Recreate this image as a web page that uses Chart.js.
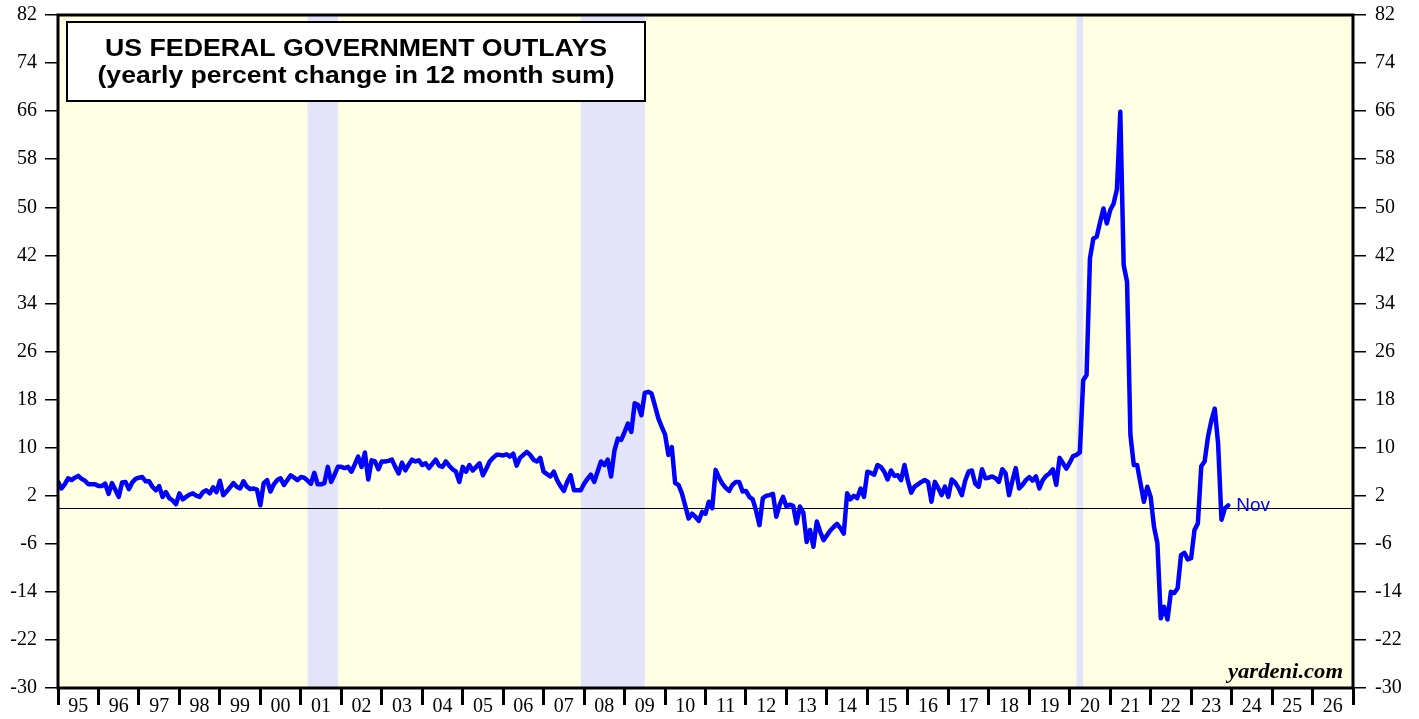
<!DOCTYPE html>
<html>
<head>
<meta charset="utf-8">
<style>
  html, body { margin: 0; padding: 0; background: #ffffff; }
  #wrap { width: 1419px; height: 719px; position: relative; }
  canvas { display: block; }
</style>
<script src="https://cdn.jsdelivr.net/npm/chart.js@4.4.0/dist/chart.umd.min.js"></script>
</head>
<body>
<div id="wrap"><canvas id="c" width="1419" height="719"></canvas></div>
<script>
// ---------------- DATA ----------------
const titleLine1 = 'US FEDERAL GOVERNMENT OUTLAYS';
const titleLine2 = '(yearly percent change in 12 month sum)';
const sourceText = 'yardeni.com';
const lastLabel = 'Nov';

// first observation: Dec 1994, monthly through Nov 2023
const startYear = 1994;
const startMonth = 12;

const outlaysYoY = [
  4.3,
  // 1995
  3.2, 3.9, 4.9, 4.6, 5.0, 5.3, 4.8, 4.5, 3.9, 3.9, 3.9, 3.6,
  // 1996
  3.6, 4.0, 2.3, 4.1, 3.0, 1.8, 4.2, 4.3, 3.1, 4.2, 4.8, 5.0,
  // 1997
  5.1, 4.4, 4.4, 3.5, 2.9, 3.6, 1.8, 2.6, 1.6, 1.2, 0.6, 2.4,
  // 1998
  1.4, 1.8, 2.2, 2.4, 2.0, 1.8, 2.6, 2.9, 2.4, 3.4, 2.6, 4.5,
  // 1999
  2.1, 2.7, 3.4, 4.1, 3.5, 3.2, 4.4, 3.5, 3.1, 3.2, 3.0, 0.4,
  // 2000
  4.1, 4.6, 2.7, 3.9, 4.6, 4.9, 3.8, 4.6, 5.4, 5.0, 4.6, 5.1,
  // 2001
  5.0, 4.5, 4.0, 5.8, 3.9, 3.9, 4.1, 6.8, 4.3, 5.5, 6.8, 6.8,
  // 2002
  6.6, 6.8, 6.0, 7.2, 8.5, 6.8, 9.2, 4.7, 7.9, 7.7, 6.4, 7.7,
  // 2003
  7.7, 7.8, 8.0, 6.8, 5.7, 7.5, 6.2, 7.2, 8.0, 7.7, 7.9, 7.1,
  // 2004
  7.4, 6.6, 7.3, 8.0, 7.0, 6.8, 7.7, 7.0, 6.4, 6.0, 4.3, 6.8,
  // 2005
  6.0, 7.1, 6.2, 6.8, 7.4, 5.4, 6.5, 7.7, 8.3, 8.8, 8.8, 8.7,
  // 2006
  8.9, 8.5, 9.0, 7.0, 8.3, 8.8, 9.3, 8.8, 8.0, 7.7, 8.3, 6.0,
  // 2007
  5.6, 5.2, 6.0, 4.6, 3.6, 2.8, 4.3, 5.4, 2.9, 2.9, 2.9, 4.0,
  // 2008
  4.8, 5.5, 4.3, 6.0, 7.7, 7.1, 8.0, 5.2, 9.5, 11.5, 11.3, 12.6,
  // 2009
  14.0, 12.6, 17.4, 17.1, 15.4, 19.1, 19.3, 19.0, 17.0, 14.9, 13.5, 12.2,
  // 2010
  8.8, 10.1, 4.1, 3.8, 2.4, 0.3, -1.8, -1.0, -1.5, -2.2, -0.7, -1.0,
  // 2011
  1.0, -0.1, 6.3, 5.0, 4.0, 3.3, 2.8, 3.8, 4.3, 4.3, 2.7, 2.8,
  // 2012
  1.8, 1.4, -0.5, -2.9, 1.6, 2.0, 2.1, 2.3, -1.5, 0.5, 1.8, 0.2,
  // 2013
  0.5, 0.3, -2.6, 0.2, -0.8, -5.7, -3.7, -6.5, -2.3, -4.0, -5.4, -4.6,
  // 2014
  -3.8, -3.2, -2.7, -3.4, -4.3, 2.4, 1.4, 2.0, 1.6, 3.2, 1.8, 6.0,
  // 2015
  5.8, 5.5, 7.1, 6.8, 6.0, 4.7, 6.2, 5.3, 5.4, 4.6, 7.1, 4.5,
  // 2016
  2.5, 3.5, 3.9, 4.3, 4.6, 4.3, 1.0, 4.3, 3.3, 2.1, 3.5, 1.8,
  // 2017
  4.7, 4.2, 3.3, 2.1, 4.5, 6.0, 6.2, 4.0, 3.5, 6.4, 4.9, 5.0,
  // 2018
  5.2, 4.9, 4.3, 6.4, 5.7, 2.1, 4.5, 6.6, 3.2, 3.8, 4.6, 5.1,
  // 2019
  4.5, 5.2, 3.2, 4.6, 5.3, 5.7, 6.4, 3.8, 8.3, 7.4, 6.5, 7.5,
  // 2020
  8.6, 8.8, 9.2, 21.2, 22.1, 41.5, 44.8, 45.1, 47.5, 49.8, 47.3, 49.5,
  // 2021
  50.6, 53.0, 65.9, 40.4, 37.6, 12.1, 7.1, 7.1, 4.0, 1.0, 3.5, 1.8,
  // 2022
  -3.2, -5.9, -18.4, -16.5, -18.6, -14.0, -14.2, -13.4, -7.9, -7.5, -8.6, -8.4,
  // 2023
  -3.7, -2.6, 6.9, 7.7, 11.8, 14.5, 16.5, 10.7, -2.0, -0.1, 0.4
];

const yearLabels = ['95','96','97','98','99','00','01','02','03','04','05','06','07','08','09',
  '10','11','12','13','14','15','16','17','18','19','20','21','22','23','24','25','26'];
const xFirstYear = 1995;
const xLastYear = 2027;

const yMin = -30;
const yMax = 82;
const yStep = 8;

// recessions (decimal years)
const recessionStarts = [2001.167, 2007.917, 2020.167];
const recessionEnds   = [2001.917, 2009.5,   2020.333];

// ---------------- BUILD ----------------
const points = outlaysYoY.map((v, i) => ({ x: startYear + (startMonth + i) / 12, y: v }));

const COL_BG = '#FFFFE3';
const COL_REC = '#E3E3FA';
const COL_LINE = '#0000FF';

const decorPlugin = {
  id: 'decor',
  beforeDraw(chart) {
    const { ctx, chartArea: a, scales } = chart;
    ctx.save();
    ctx.fillStyle = '#ffffff';
    ctx.fillRect(0, 0, chart.width, chart.height);
    ctx.fillStyle = COL_BG;
    ctx.fillRect(a.left, a.top, a.right - a.left, a.bottom - a.top);
    ctx.fillStyle = COL_REC;
    for (let i = 0; i < recessionStarts.length; i++) {
      const x0 = scales.x.getPixelForValue(recessionStarts[i]);
      const x1 = scales.x.getPixelForValue(recessionEnds[i]);
      ctx.fillRect(x0, a.top, x1 - x0, a.bottom - a.top);
    }
    const y0 = Math.round(scales.y.getPixelForValue(0)) + 0.5;
    ctx.strokeStyle = '#000';
    ctx.lineWidth = 1;
    ctx.beginPath();
    ctx.moveTo(a.left, y0);
    ctx.lineTo(a.right, y0);
    ctx.stroke();
    ctx.restore();
  },
  afterDraw(chart) {
    const { ctx, chartArea: a, scales } = chart;
    ctx.save();
    // frame
    ctx.strokeStyle = '#000';
    ctx.lineWidth = 3;
    ctx.strokeRect(a.left, a.top, a.right - a.left, a.bottom - a.top);

    // title box
    ctx.fillStyle = '#ffffff';
    ctx.fillRect(67, 22, 578, 79);
    ctx.lineWidth = 2;
    ctx.strokeRect(67, 22, 578, 79);

    const stretch = (text, cx, baseline, targetW, font, color, align) => {
      ctx.font = font;
      const w = ctx.measureText(text).width;
      const sx = targetW / w;
      ctx.save();
      ctx.fillStyle = color;
      ctx.textBaseline = 'alphabetic';
      ctx.textAlign = align;
      ctx.translate(cx, baseline);
      ctx.scale(sx, 1);
      ctx.fillText(text, 0, 0);
      ctx.restore();
    };
    stretch(titleLine1, 356, 56, 502, 'bold 23px "Liberation Sans", Arial, sans-serif', '#000', 'center');
    stretch(titleLine2, 356, 83, 517, 'bold 23px "Liberation Sans", Arial, sans-serif', '#000', 'center');

    // source
    stretch(sourceText, 1343, 678, 115, 'italic bold 21px "Liberation Serif", "Times New Roman", serif', '#000', 'right');

    // last label
    const lastPt = points[points.length - 1];
    const lx = scales.x.getPixelForValue(lastPt.x) + 8;
    const ly = scales.y.getPixelForValue(lastPt.y);
    ctx.font = '19px "Liberation Sans", Arial, sans-serif';
    ctx.fillStyle = COL_LINE;
    ctx.textAlign = 'left';
    ctx.textBaseline = 'middle';
    ctx.fillText(lastLabel, lx, ly);
    ctx.restore();
  }
};

const tickFont = { family: '"Liberation Serif", "Times New Roman", serif', size: 20 };

const fitY = w => s => { s.width = w; s.paddingTop = 12; s.paddingBottom = 12; };

new Chart(document.getElementById('c'), {
  type: 'line',
  data: {
    datasets: [{
      data: points,
      borderColor: COL_LINE,
      borderWidth: 4.5,
      pointRadius: 0,
      tension: 0,
      fill: false,
      borderJoinStyle: 'round',
      borderCapStyle: 'round'
    }]
  },
  options: {
    responsive: false,
    animation: false,
    events: [],
    parsing: false,
    layout: { padding: { top: 15, left: 0, right: 0, bottom: 0 } },
    plugins: { legend: { display: false }, tooltip: { enabled: false }, title: { display: false } },
    scales: {
      x: {
        type: 'linear',
        position: 'bottom',
        min: xFirstYear,
        max: xLastYear,
        afterFit: s => { s.height = 31; },
        border: { display: false },
        grid: { drawOnChartArea: false, drawTicks: true, tickLength: 17, lineWidth: 3, color: '#000' },
        ticks: {
          stepSize: 1,
          autoSkip: false,
          maxRotation: 0,
          minRotation: 0,
          labelOffset: 20.2,
          padding: -10,
          color: '#000',
          font: tickFont,
          callback: v => { const k = Math.round(v) - xFirstYear; return yearLabels[k] !== undefined ? yearLabels[k] : ''; }
        }
      },
      y: {
        type: 'linear',
        position: 'left',
        min: yMin,
        max: yMax,
        afterFit: fitY(58),
        border: { display: false },
        grid: { drawOnChartArea: false, drawTicks: true, tickLength: 13, lineWidth: 1.5, color: '#000' },
        ticks: { stepSize: yStep, padding: 8, color: '#000', font: tickFont }
      },
      y2: {
        type: 'linear',
        position: 'right',
        min: yMin,
        max: yMax,
        afterFit: fitY(66),
        border: { display: false },
        grid: { drawOnChartArea: false, drawTicks: true, tickLength: 13, lineWidth: 1.5, color: '#000' },
        ticks: { stepSize: yStep, padding: 9, color: '#000', font: tickFont }
      }
    }
  },
  plugins: [decorPlugin]
});
</script>
</body>
</html>
